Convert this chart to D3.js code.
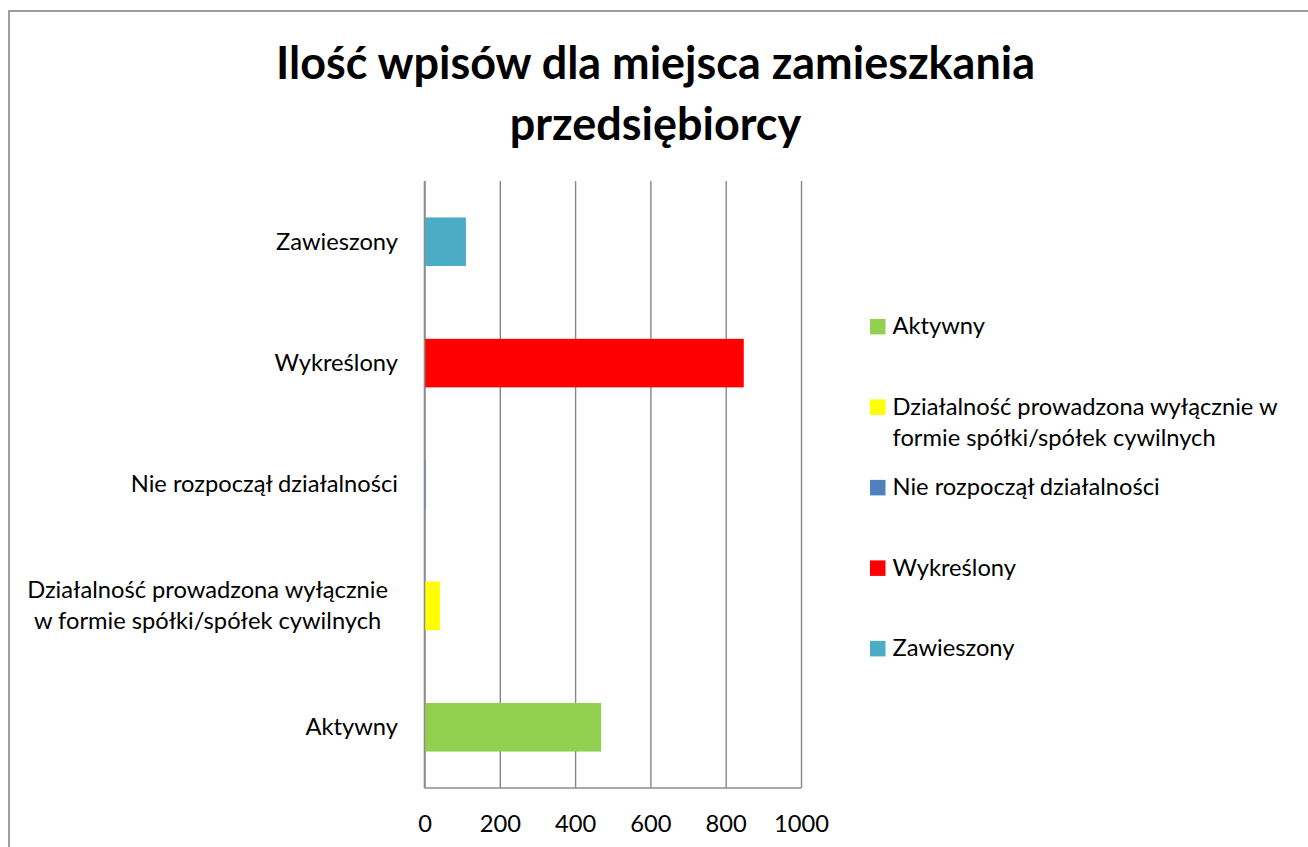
<!DOCTYPE html>
<html>
<head>
<meta charset="utf-8">
<script src="https://cdn.jsdelivr.net/npm/d3@7/dist/d3.min.js"></script>
<style>
  html, body { margin: 0; padding: 0; background: #fff; }
  svg { display: block; }
  text { font-family: Lato, "Open Sans", sans-serif; fill: #000; }
</style>
</head>
<body>
<svg id="chart" width="1308" height="847"></svg>
<script>
// Chart data
const titleLines = ["Ilość wpisów dla miejsca zamieszkania", "przedsiębiorcy"];
const categories = [
  "Aktywny",
  "Działalność prowadzona wyłącznie w formie spółki/spółek cywilnych",
  "Nie rozpoczął działalności",
  "Wykreślony",
  "Zawieszony"
];
const axisLabelLines = [
  ["Aktywny"],
  ["Działalność prowadzona wyłącznie", "w formie spółki/spółek cywilnych"],
  ["Nie rozpoczął działalności"],
  ["Wykreślony"],
  ["Zawieszony"]
];
const legendLabelLines = [
  ["Aktywny"],
  ["Działalność prowadzona wyłącznie w", "formie spółki/spółek cywilnych"],
  ["Nie rozpoczął działalności"],
  ["Wykreślony"],
  ["Zawieszony"]
];
const values = [469, 41, 3, 848, 110];
const colors = ["#92D050", "#FFFF00", "#4F81BD", "#FF0000", "#4BACC6"];
const xTicks = [0, 200, 400, 600, 800, 1000];

const svg = d3.select("#chart");

// Fit a font size so a reference string reaches a given width
function fitSize(str, weight, targetWidth) {
  const t = svg.append("text").attr("font-size", 100).attr("font-weight", weight).text(str);
  const w = t.node().getComputedTextLength();
  t.remove();
  return 100 * targetWidth / w;
}
const fs = fitSize("Zawieszony", "normal", 122);
const titleFs = fitSize(titleLines[0], "bold", 759);

// Outer chart border
svg.append("rect")
  .attr("x", 9).attr("y", 11)
  .attr("width", 1400).attr("height", 900)
  .attr("fill", "none").attr("stroke", "#878787").attr("stroke-width", 1.6);

// Title
svg.append("g").selectAll("text").data(titleLines).join("text")
  .attr("x", 655.5)
  .attr("y", (d, i) => 79 + i * 61)
  .attr("text-anchor", "middle")
  .attr("font-weight", "bold")
  .attr("font-size", titleFs)
  .text(d => d);

// Plot area
const plot = { left: 424.5, right: 801, top: 181, bottom: 788 };
const x = d3.scaleLinear().domain([0, 1000]).range([plot.left, plot.right]);
const y = d3.scaleBand().domain(categories.slice().reverse()).range([plot.top, plot.bottom]);
const bw = y.bandwidth();

// Vertical gridlines and tick labels
const xAxis = d3.axisBottom(x)
  .tickValues(xTicks)
  .tickSize(-(plot.bottom - plot.top))
  .tickFormat(d3.format("d"));
const gx = svg.append("g").attr("transform", `translate(0,${plot.bottom})`).call(xAxis);
gx.select(".domain").remove();
gx.selectAll(".tick line").attr("stroke", "#868686").attr("stroke-width", 1.4);
gx.selectAll(".tick text")
  .attr("y", 43.7).attr("dy", 0)
  .attr("font-size", fs)
  .attr("font-family", "Lato, 'Open Sans', sans-serif")
  .attr("fill", "#000");

// Bars
svg.append("g").selectAll("rect").data(categories).join("rect")
  .attr("x", x(0))
  .attr("y", d => y(d) + bw * 0.3)
  .attr("width", (d, i) => x(values[i]) - x(0))
  .attr("height", bw * 0.4)
  .attr("fill", (d, i) => colors[i]);

// Axis lines
svg.append("line")
  .attr("x1", plot.left).attr("x2", plot.left)
  .attr("y1", plot.top).attr("y2", plot.bottom)
  .attr("stroke", "#8c8c8c").attr("stroke-width", 1.6);
svg.append("line")
  .attr("x1", plot.left).attr("x2", plot.right)
  .attr("y1", plot.bottom).attr("y2", plot.bottom)
  .attr("stroke", "#8c8c8c").attr("stroke-width", 1.6);

// Category labels
const lineGap = 31.5;
const catG = svg.append("g");
categories.forEach((c, i) => {
  const lines = axisLabelLines[i];
  const cy = y(c) + bw / 2;
  if (lines.length === 1) {
    catG.append("text")
      .attr("x", 398).attr("y", cy + 7.8)
      .attr("text-anchor", "end")
      .attr("font-size", fs)
      .text(lines[0]);
  } else {
    const g = catG.append("g");
    const texts = lines.map((l, k) => g.append("text")
      .attr("y", cy + 7.8 + (k - (lines.length - 1) / 2) * lineGap)
      .attr("text-anchor", "middle")
      .attr("font-size", fs)
      .text(l));
    const maxW = d3.max(texts, t => t.node().getComputedTextLength());
    texts.forEach(t => t.attr("x", 388 - maxW / 2));
  }
});

// Legend
const legend = svg.append("g");
categories.forEach((c, i) => {
  const cy = 326.7 + i * 80.5;
  legend.append("rect")
    .attr("x", 870).attr("y", cy - 7.8)
    .attr("width", 15.5).attr("height", 15.5)
    .attr("fill", colors[i]);
  legendLabelLines[i].forEach((l, k) => {
    legend.append("text")
      .attr("x", 892.5).attr("y", cy + 7.6 + k * lineGap)
      .attr("font-size", fs)
      .text(l);
  });
});
</script>
</body>
</html>
